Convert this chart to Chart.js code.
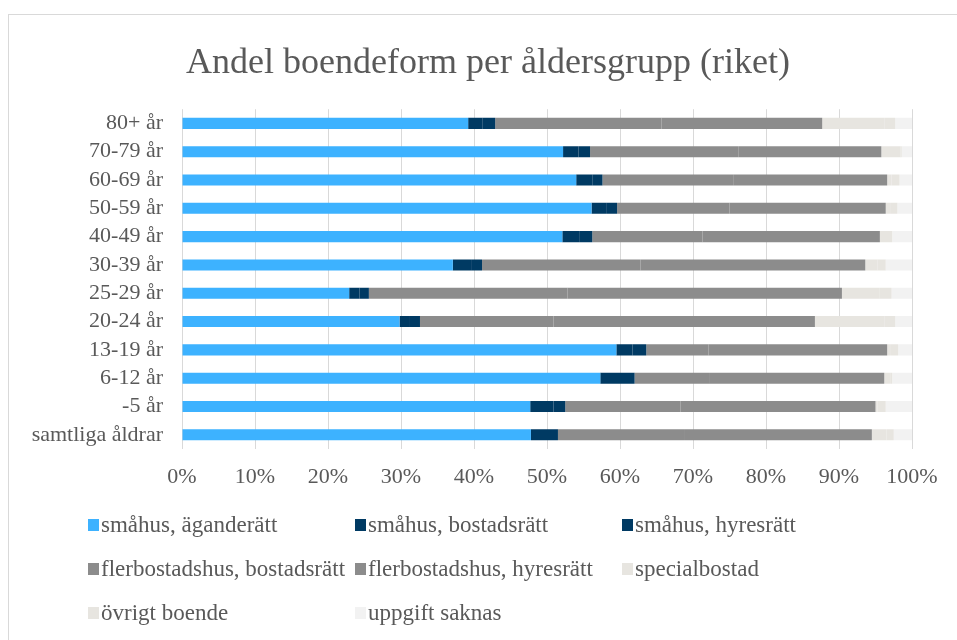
<!DOCTYPE html>
<html>
<head>
<meta charset="utf-8">
<script src="https://cdn.jsdelivr.net/npm/chart.js@4.4.1/dist/chart.umd.min.js"></script>
<style>
  html, body { margin: 0; padding: 0; background: #ffffff; overflow: hidden; width: 957px; height: 640px; }
  #frame { position: absolute; left: 8px; top: 14px; width: 1000px; height: 700px; border: 1px solid #d9d9d9; box-sizing: border-box; }
  #c { position: absolute; left: 0; top: 0; }
</style>
</head>
<body>
<div id="frame"></div>
<canvas id="c" width="976" height="640"></canvas>
<script>
const title = "Andel boendeform per åldersgrupp (riket)";
const categories = ["80+ år", "70-79 år", "60-69 år", "50-59 år", "40-49 år", "30-39 år", "25-29 år", "20-24 år", "13-19 år", "6-12 år", "-5 år", "samtliga åldrar"];
const seriesNames = ["småhus, äganderätt", "småhus, bostadsrätt", "småhus, hyresrätt", "flerbostadshus, bostadsrätt", "flerbostadshus, hyresrätt", "specialbostad", "övrigt boende", "uppgift saknas"];
const smahusAgande      = [39.2, 52.2, 54.0, 56.1, 52.1, 37.1, 22.9, 29.8, 59.5, 57.3, 47.7, 47.8];
const smahusBostadsratt = [2.0, 2.1, 2.2, 2.0, 2.4, 2.5, 1.4, 1.3, 2.2, 2.7, 3.2, 2.2];
const smahusHyresratt   = [1.7, 1.6, 1.4, 1.5, 1.7, 1.5, 1.3, 1.5, 1.9, 2.0, 1.6, 1.5];
const flerBostadsratt   = [22.8, 20.3, 17.9, 15.4, 15.1, 21.7, 27.2, 18.3, 8.5, 10.2, 15.8, 17.4];
const flerHyresratt     = [22.0, 19.6, 21.1, 21.4, 24.3, 30.8, 37.6, 35.8, 24.5, 24.0, 26.7, 25.6];
const specialbostad     = [8.5, 2.6, 0.6, 0.6, 0.7, 1.7, 5.1, 9.5, 0.4, 0.9, 0.3, 2.0];
const ovrigtBoende      = [1.5, 0.2, 1.1, 1.0, 1.0, 1.1, 1.7, 1.5, 1.1, 0.2, 1.1, 1.0];
const uppgiftSaknas     = [2.3, 1.4, 1.7, 2.0, 2.7, 3.6, 2.8, 2.3, 1.9, 2.7, 3.6, 2.5];
const xTicks = [0, 10, 20, 30, 40, 50, 60, 70, 80, 90, 100];

const seriesValues = [smahusAgande, smahusBostadsratt, smahusHyresratt, flerBostadsratt, flerHyresratt, specialbostad, ovrigtBoende, uppgiftSaknas];
const colors = ["#3db2ff", "#003a63", "#003a63", "#8c8c8c", "#8c8c8c", "#e7e5e0", "#e7e5e0", "#f2f2f2"];

const FONT = "'Liberation Serif', 'Times New Roman', serif";
const TXT = "#595959";

// Legend drawn on the canvas in a 3-column grid, from the chart's datasets
const gridLegend = {
  id: 'gridLegend',
  afterDraw(chart) {
    const ctx = chart.ctx;
    const colX = [88, 355, 622];
    const rowY = [525, 569, 613];
    ctx.save();
    ctx.font = "23px " + FONT;
    ctx.textBaseline = 'middle';
    ctx.textAlign = 'left';
    chart.data.datasets.forEach((ds, i) => {
      const x = colX[i % 3];
      const y = rowY[Math.floor(i / 3)];
      ctx.fillStyle = ds.backgroundColor;
      ctx.fillRect(x, y - 6, 11, 12);
      ctx.fillStyle = TXT;
      ctx.fillText(ds.label, x + 13, y + 1);
    });
    ctx.restore();
  }
};

const chart = new Chart(document.getElementById('c'), {
  type: 'bar',
  data: {
    labels: categories,
    datasets: seriesNames.map((n, i) => ({
      label: n,
      data: seriesValues[i],
      backgroundColor: colors[i],
      borderWidth: 0,
      categoryPercentage: 1.0,
      barPercentage: 0.39
    }))
  },
  plugins: [gridLegend],
  options: {
    indexAxis: 'y',
    responsive: false,
    animation: false,
    devicePixelRatio: 1,
    layout: { padding: { left: 0, right: 0, top: 0, bottom: 140 } },
    plugins: {
      legend: { display: false },
      tooltip: { enabled: false },
      title: {
        display: true,
        text: title,
        color: TXT,
        font: { family: FONT, size: 36, weight: 'normal' },
        padding: { top: 42, bottom: 24 }
      }
    },
    scales: {
      x: {
        stacked: true,
        min: 0,
        max: 100,
        afterBuildTicks: (s) => { s.ticks = xTicks.map(v => ({ value: v })); },
        ticks: {
          callback: (v) => v + '%',
          color: TXT,
          font: { family: FONT, size: 22 },
          padding: 15,
          maxRotation: 0
        },
        grid: { color: '#d9d9d9', lineWidth: 1, drawTicks: false },
        border: { display: false },
        afterFit: (s) => { s.height = 51; }
      },
      y: {
        stacked: true,
        ticks: {
          color: TXT,
          font: { family: FONT, size: 22 },
          padding: 19,
          autoSkip: false
        },
        grid: { display: false, drawTicks: false },
        border: { display: false },
        afterFit: (s) => { s.width = 182; }
      },
      yRight: {
        type: 'category',
        position: 'right',
        display: true,
        ticks: { display: false },
        grid: { display: false, drawTicks: false },
        border: { display: false },
        afterFit: (s) => { s.width = 64; }
      }
    }
  }
});
</script>
</body>
</html>
